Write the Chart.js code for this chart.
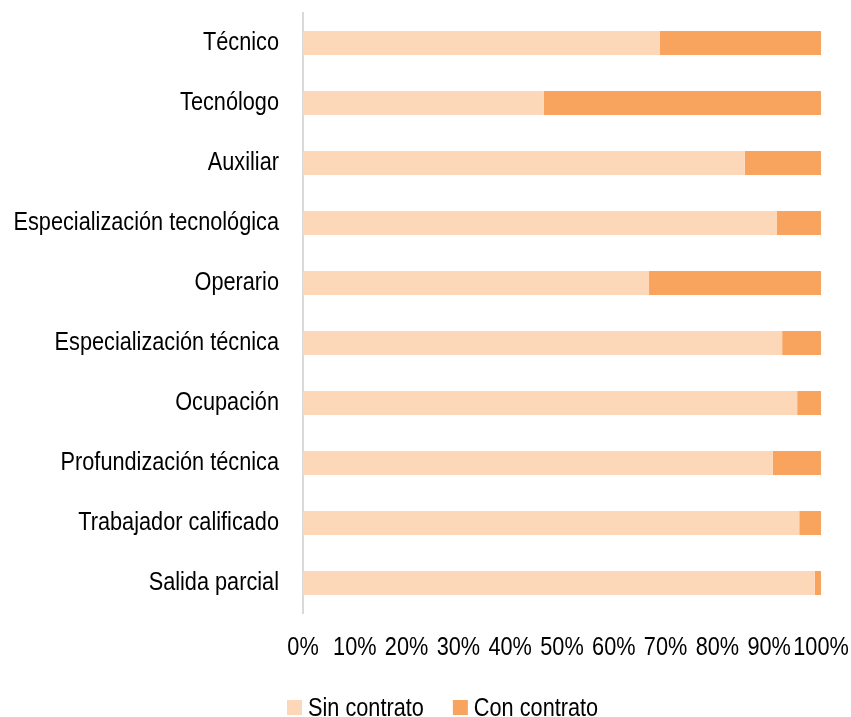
<!DOCTYPE html>
<html>
<head>
<meta charset="utf-8">
<script src="https://cdn.jsdelivr.net/npm/chart.js@4"></script>
<style>
  html, body { margin: 0; padding: 0; background: #fff; }
  #wrap { width: 851px; height: 717px; }
</style>
</head>
<body>
<div id="wrap"><canvas id="chart"></canvas></div>
<script>
// categorias (de arriba hacia abajo)
const categorias = [
  'Técnico',
  'Tecnólogo',
  'Auxiliar',
  'Especialización tecnológica',
  'Operario',
  'Especialización técnica',
  'Ocupación',
  'Profundización técnica',
  'Trabajador calificado',
  'Salida parcial'
];
// porcentajes
const sinContrato = [68.9, 46.5, 85.3, 91.5, 66.8, 92.5, 95.4, 90.7, 95.8, 98.8];
const conContrato = [31.1, 53.5, 14.7, 8.5, 33.2, 7.5, 4.6, 9.3, 4.2, 1.2];
const ticksX = [0, 10, 20, 30, 40, 50, 60, 70, 80, 90, 100];

// no hay fuente "narrow" instalada: se comprime el texto a lo ancho
const NARROW = 0.835;
const FUENTE = '26px "Liberation Sans", Arial, sans-serif';
const canvas = document.getElementById('chart');
const ctx = canvas.getContext('2d');
const origFill = ctx.fillText.bind(ctx);
const origMeasure = ctx.measureText.bind(ctx);
ctx.fillText = function (text, x, y, maxW) {
  this.save();
  this.translate(x, y);
  this.scale(NARROW, 1);
  if (maxW !== undefined) origFill(text, 0, 0, maxW / NARROW);
  else origFill(text, 0, 0);
  this.restore();
};
ctx.measureText = function (text) {
  const m = origMeasure(text);
  return {
    width: m.width * NARROW,
    actualBoundingBoxAscent: m.actualBoundingBoxAscent,
    actualBoundingBoxDescent: m.actualBoundingBoxDescent,
    actualBoundingBoxLeft: m.actualBoundingBoxLeft * NARROW,
    actualBoundingBoxRight: m.actualBoundingBoxRight * NARROW
  };
};

// leyenda dibujada a mano (cuadro pegado al texto, como en el original)
const leyenda = {
  id: 'leyenda',
  afterDraw(chart) {
    const c = chart.ctx;
    let x = 287;
    const y = 709;
    c.save();
    c.font = FUENTE;
    c.textBaseline = 'middle';
    c.textAlign = 'left';
    chart.data.datasets.forEach(ds => {
      c.fillStyle = ds.backgroundColor;
      c.fillRect(x, y - 9, 15, 15);
      x += 15 + 6;
      c.fillStyle = '#000';
      c.fillText(ds.label, x, y);
      x += c.measureText(ds.label).width + 29;
    });
    c.restore();
  }
};

Chart.defaults.font.family = '"Liberation Sans", Arial, sans-serif';
Chart.defaults.color = '#000';

new Chart(ctx, {
  type: 'bar',
  data: {
    labels: categorias,
    datasets: [
      { label: 'Sin contrato', data: sinContrato, backgroundColor: '#FCD8B9', borderWidth: 0,
        barPercentage: 0.8, categoryPercentage: 0.5 },
      { label: 'Con contrato', data: conContrato, backgroundColor: '#F9A45E', borderWidth: 0,
        barPercentage: 0.8, categoryPercentage: 0.5 }
    ]
  },
  plugins: [leyenda],
  options: {
    indexAxis: 'y',
    responsive: true,
    maintainAspectRatio: false,
    animation: false,
    layout: { padding: { top: 13, right: 30, left: 0, bottom: 50 } },
    scales: {
      x: {
        stacked: true,
        min: 0,
        max: 100,
        afterBuildTicks: (scale) => { scale.ticks = ticksX.map(v => ({ value: v })); },
        afterFit: (scale) => {
          scale.height = 54;
          scale.paddingLeft = 0;
          scale.paddingRight = 0;
        },
        grid: { display: false, drawTicks: false },
        border: { display: false },
        ticks: { font: { size: 26 }, padding: 19, autoSkip: false, callback: v => v + '%', maxRotation: 0 }
      },
      y: {
        stacked: true,
        afterFit: (scale) => {
          scale.width = 303;
          scale.paddingTop = 0;
          scale.paddingBottom = 0;
        },
        grid: { display: false, drawTicks: false },
        border: { display: true, color: '#D9D9D9', width: 2 },
        ticks: { font: { size: 26 }, padding: 24 }
      }
    },
    plugins: {
      tooltip: { enabled: false },
      legend: { display: false }
    }
  }
});
</script>
</body>
</html>
